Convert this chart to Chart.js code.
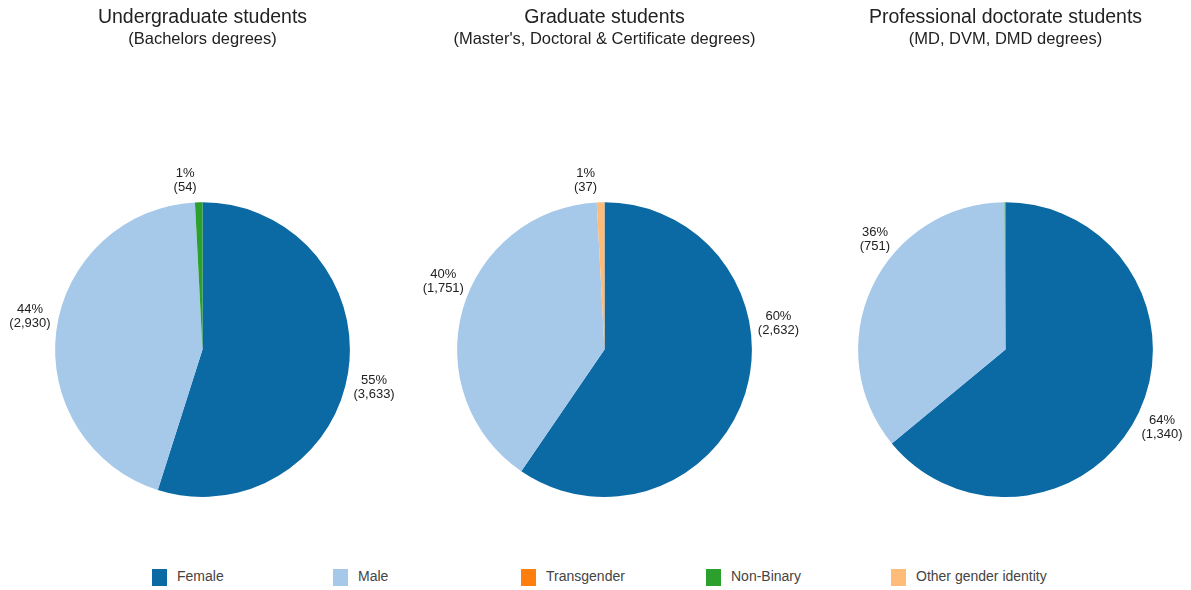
<!DOCTYPE html>
<html>
<head>
<meta charset="utf-8">
<script src="https://cdn.jsdelivr.net/npm/chart.js@4/dist/chart.umd.min.js"></script>
<style>
  body { margin: 0; background: #fff; font-family: "Liberation Sans", Arial, sans-serif; }
  #wrap { position: relative; width: 1191px; height: 590px; }
  .pie { position: absolute; top: 0; width: 401px; height: 555px; }
  .pie canvas { width: 401px; height: 555px; }
  #legend { position: absolute; left: 0; top: 567px; width: 1191px; height: 20px; }
  .legend-item { position: absolute; top: 0; font-size: 14px; color: #444; line-height: 18px; }
  .legend-item .sw { display: inline-block; width: 15px; height: 17px; vertical-align: middle; margin-right: 10px; }
</style>
</head>
<body>
<div id="wrap">
  <div class="pie" style="left:2px"><canvas id="pie-ug"></canvas></div>
  <div class="pie" style="left:404px"><canvas id="pie-grad"></canvas></div>
  <div class="pie" style="left:805px"><canvas id="pie-prof"></canvas></div>
  <div id="legend"></div>
</div>
<script>
const categorias = ["Female", "Male", "Transgender", "Non-Binary", "Other gender identity"];
const colores = ["#0b69a3", "#a6c9ea", "#ff7f0e", "#2ca02c", "#ffbb78"];

const undergrad = [3633, 2930, 0, 54, 0];
const graduate = [2632, 1751, 0, 0, 37];
const professional = [1340, 751, 0, 2, 0];

const titulos = ["Undergraduate students", "Graduate students", "Professional doctorate students"];
const subtitulos = ["(Bachelors degrees)", "(Master's, Doctoral & Certificate degrees)", "(MD, DVM, DMD degrees)"];

const FONT = "'Liberation Sans', Arial, sans-serif";

// etiquetas "55%\n(3,633)" fuera de cada porción; desfase = giro en grados de la etiqueta
const etiquetas = {
  id: "etiquetas",
  afterDatasetsDraw(chart, args, opts) {
    const ctx = chart.ctx;
    const data = chart.data.datasets[0].data;
    const total = data.reduce((a, b) => a + b, 0);
    const meta = chart.getDatasetMeta(0);
    const desfase = opts.desfase || [];
    ctx.save();
    ctx.font = "13px " + FONT;
    ctx.fillStyle = "#222";
    ctx.textAlign = "center";
    ctx.textBaseline = "middle";
    meta.data.forEach((arc, i) => {
      const v = data[i];
      if (!v || v / total < 0.005) return;
      const { x, y, startAngle, endAngle, outerRadius } = arc.getProps(["x", "y", "startAngle", "endAngle", "outerRadius"], true);
      const mid = (startAngle + endAngle) / 2 + ((desfase[i] || 0) * Math.PI) / 180;
      const dx = Math.cos(mid), dy = Math.sin(mid);
      const l1 = Math.round((v / total) * 100) + "%";
      const l2 = "(" + v.toLocaleString("en-US") + ")";
      const w = Math.max(ctx.measureText(l1).width, ctx.measureText(l2).width);
      const h = 30;
      const ax = x + dx * (outerRadius + 8) + dx * w / 2;
      const ay = y + dy * (outerRadius + 8) + dy * h / 2;
      ctx.fillText(l1, ax, ay - 7);
      ctx.fillText(l2, ax, ay + 7);
    });
    ctx.restore();
  },
};

function crearPie(id, valores, titulo, subtitulo, desfase) {
  return new Chart(document.getElementById(id), {
    type: "pie",
    data: {
      labels: categorias,
      datasets: [{ data: valores, backgroundColor: colores, borderWidth: 0 }],
    },
    options: {
      responsive: false,
      animation: false,
      layout: { padding: { left: 40, right: 40, bottom: 58 } },
      plugins: {
        legend: { display: false },
        tooltip: { enabled: false },
        etiquetas: { desfase },
        title: {
          display: true, text: titulo, color: "#222",
          font: { family: FONT, size: 19.5, weight: "normal" },
          padding: { top: 6, bottom: 0 },
        },
        subtitle: {
          display: true, text: subtitulo, color: "#222",
          font: { family: FONT, size: 16.5, weight: "normal" },
          padding: { top: 0, bottom: 153 },
        },
      },
    },
    plugins: [etiquetas],
  });
}

["pie-ug", "pie-grad", "pie-prof"].forEach((c) => {
  const el = document.getElementById(c);
  el.width = 401; el.height = 555;
});

crearPie("pie-ug", undergrad, titulos[0], subtitulos[0], [4, 4, 0, -4.5, 0]);
crearPie("pie-grad", graduate, titulos[1], subtitulos[1], [-26, 8, 0, 0, -5]);
crearPie("pie-prof", professional, titulos[2], subtitulos[2], [2, 15, 0, 0, 0]);

const legendX = [152, 333, 521, 706, 891];
document.getElementById("legend").innerHTML = categorias
  .map((c, i) => `<div class="legend-item" style="left:${legendX[i]}px"><span class="sw" style="background:${colores[i]}"></span>${c}</div>`)
  .join("");
</script>
</body>
</html>
